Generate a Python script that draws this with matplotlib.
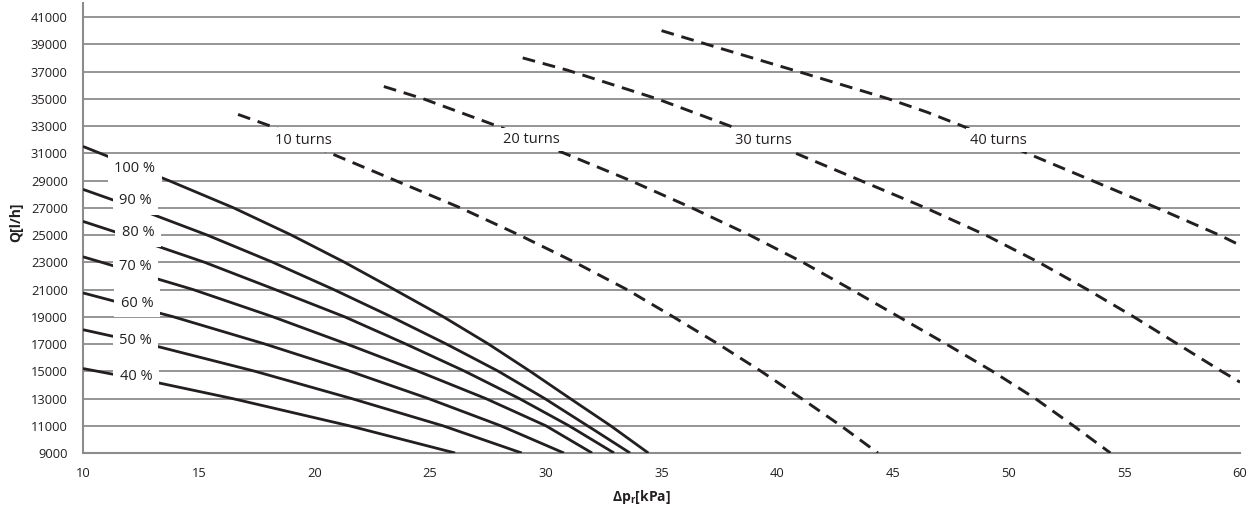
import matplotlib
matplotlib.use("Agg")
import matplotlib.pyplot as plt

plt.rcParams['font.family'] = ['Open Sans', 'DejaVu Sans']
plt.rcParams['mathtext.fontset'] = 'custom'
plt.rcParams['mathtext.rm'] = 'Open Sans'
plt.rcParams['mathtext.bf'] = 'Open Sans:bold'

# ---- data ----
# valve opening curves (solid): dp [kPa], Q [l/h]
dp_100 = [10, 13.7, 16.5, 19.0, 21.3, 23.45, 25.57, 27.52, 29.32, 31.05, 32.8, 34.43]
q_100 = [31500, 29000, 27000, 25000, 23000, 21000, 19000, 17000, 15000, 13000, 11000, 9000]
dp_90 = [10, 12.25, 15.36, 18.2, 20.83, 23.32, 25.7, 27.95, 29.95, 31.8, 33.64]
q_90 = [28350, 27000, 25000, 23000, 21000, 19000, 17000, 15000, 13000, 11000, 9000]
dp_80 = [10, 11.8, 15.25, 18.3, 21.3, 23.95, 26.5, 28.85, 31.0, 32.95]
q_80 = [26000, 25000, 23000, 21000, 19000, 17000, 15000, 13000, 11000, 9000]
dp_70 = [10, 10.8, 14.75, 18.2, 21.4, 24.48, 27.4, 30.0, 32.0]
q_70 = [23400, 23000, 21000, 19000, 17000, 15000, 13000, 11000, 9000]
dp_60 = [10, 13.9, 17.86, 21.53, 24.92, 28.05, 30.78]
q_60 = [20750, 19000, 17000, 15000, 13000, 11000, 9000]
dp_50 = [10, 12.8, 17.43, 21.6, 25.55, 28.96]
q_50 = [18050, 17000, 15000, 13000, 11000, 9000]
dp_40 = [10, 13.34, 16.45, 21.5, 26.08]
q_40 = [15200, 14120, 13000, 11000, 9000]

pct_labels = ["100 %", "90 %", "80 %", "70 %", "60 %", "50 %", "40 %"]
pct_label_dp = [12.23, 12.27, 12.38, 12.27, 12.33, 12.27, 12.30]
pct_label_q = [29900, 27520, 25170, 22670, 19990, 17290, 14600]

# pre-setting curves (dashed)
dp_t10 = [16.7, 18.1, 20.7, 23.5, 26.3, 28.85, 31.25, 33.5, 35.5, 37.45, 39.3, 41.05, 42.75, 44.35]
q_t10 = [33850, 33000, 31000, 29000, 27000, 25000, 23000, 21000, 19000, 17000, 15000, 13000, 11000, 9000]
dp_t20 = [23.0, 24.7, 27.9, 30.8, 33.65, 36.3, 38.8, 41.1, 43.2, 45.25, 47.3, 49.3, 51.15, 52.8, 54.4]
q_t20 = [35900, 35000, 33000, 31000, 29000, 27000, 25000, 23000, 21000, 19000, 17000, 15000, 13000, 11000, 9000]
dp_t30 = [29.0, 30.93, 34.8, 37.96, 40.8, 43.6, 46.4, 49.0, 51.3, 53.4, 55.4, 57.3, 59.2, 60.0]
q_t30 = [38000, 37100, 35000, 33000, 31000, 29000, 27000, 25000, 23000, 21000, 19000, 17000, 15000, 14200]
dp_t40 = [35.0, 36.95, 40.9, 44.8, 46.5, 48.0, 50.8, 53.6, 56.4, 59.1, 60.0]
q_t40 = [40000, 39000, 37000, 35000, 34000, 33000, 31000, 29000, 27000, 25000, 24250]

turn_labels = ["10 turns", "20 turns", "30 turns", "40 turns"]
turn_label_dp = [19.53, 29.39, 39.39, 49.55]
turn_label_q = [31970, 32020, 31970, 31970]

x_ticks = [10, 15, 20, 25, 30, 35, 40, 45, 50, 55, 60]
y_ticks = list(range(9000, 41001, 2000))

# ---- drawing ----
INK = '#231f20'
GRID = '#8c8c8c'

fig = plt.figure(figsize=(12.56, 5.11), dpi=100)
ax = fig.add_axes([0.0661, 0.1135, 0.9212, 0.87985])

solid = [(dp_100, q_100), (dp_90, q_90), (dp_80, q_80), (dp_70, q_70),
         (dp_60, q_60), (dp_50, q_50), (dp_40, q_40)]
for xs, ys in solid:
    ax.plot(xs, ys, color=INK, lw=2.0, solid_capstyle='butt',
            solid_joinstyle='round', zorder=3)

dashed = [(dp_t10, q_t10), (dp_t20, q_t20), (dp_t30, q_t30), (dp_t40, q_t40)]
for xs, ys in dashed:
    ax.plot(xs, ys, color=INK, lw=2.1, dashes=(4.4, 2.7), dash_capstyle='butt',
            dash_joinstyle='round', zorder=3)

for t, x, y in zip(pct_labels, pct_label_dp, pct_label_q):
    ax.text(x, y, t, ha='center', va='center', fontsize=10.5, color=INK,
            bbox=dict(boxstyle='square,pad=0.45', fc='white', ec='none'), zorder=5)
for t, x, y in zip(turn_labels, turn_label_dp, turn_label_q):
    ax.text(x, y, t, ha='center', va='center', fontsize=10.5, color=INK,
            bbox=dict(boxstyle='square,pad=0.28', fc='white', ec='none'), zorder=5)

ax.set_xlim(10, 60)
ax.set_ylim(9000, 42000)
ax.set_xticks(x_ticks)
ax.set_xticklabels([str(v) for v in x_ticks])
ax.set_yticks(y_ticks)
ax.set_yticklabels([str(v) for v in y_ticks])
ax.tick_params(axis='both', length=0, labelsize=9.3, colors=INK)
ax.tick_params(axis='y', pad=11)
ax.tick_params(axis='x', pad=10)

ax.set_axisbelow(True)
ax.yaxis.grid(True, color=GRID, lw=1.3)
ax.xaxis.grid(False)
for s in ['top', 'right']:
    ax.spines[s].set_visible(False)
for s in ['left', 'bottom']:
    ax.spines[s].set_color(GRID)
    ax.spines[s].set_linewidth(1.5)

fig.text(16.5 / 1256, 1 - 222 / 511, 'Q[l/h]', rotation=90, ha='center', va='center',
         fontsize=10, fontweight='bold', color=INK)
fig.text(641 / 1256, 1 - 497 / 511, r'Δp$_{\mathbf{r}}$[kPa]', ha='center', va='center',
         fontsize=10, fontweight='bold', color=INK)

fig.savefig('out.png', dpi=100, facecolor='white')
